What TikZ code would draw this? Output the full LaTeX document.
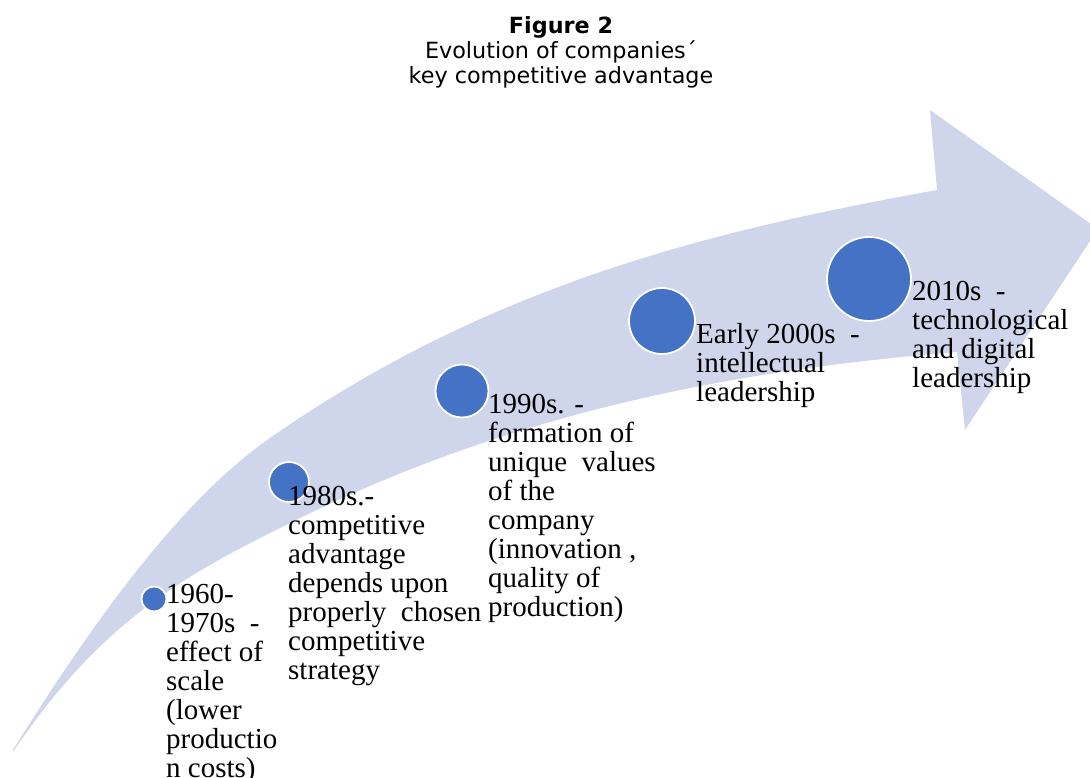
\documentclass[tikz,border=0pt]{standalone}
\usepackage{fontspec}
\setmainfont{Liberation Serif}
\newfontfamily\titlefont{DejaVu Sans}
\definecolor{arrowfill}{RGB}{207,213,234}
\definecolor{dotblue}{RGB}{68,114,196}
% multi-line caption whose reference point is the baseline of its first line
\newcommand\stagetext[1]{\parbox[t]{330pt}{\raggedright\fontsize{29}{29}\selectfont #1}}
\begin{document}
\begin{tikzpicture}[x=1pt,y=-1pt,
  dot/.style={circle, fill=dotblue, draw=white, line width=1.8pt, inner sep=0pt},
  stagelabel/.style={anchor=base west, inner sep=0pt, text=black},
]
\useasboundingbox (0,0) rectangle (1090,777);
\clip (0,0) rectangle (1090,777);

% title
\node[anchor=base, inner sep=0pt] (title) at (561,33)
  {\parbox[t]{500pt}{\centering\titlefont\fontsize{22.3}{25.3}\selectfont
   \textbf{Figure 2}\\Evolution of companies´\\key competitive advantage}};

% curved upward arrow: upper edge, head, lower edge back to the tail point
\fill[arrowfill]
  (13,750) .. controls (99,612) and (184,498) .. (270,438)
           .. controls (492,283) and (715,230) .. (937,190)
  -- (930,110) -- (1098,229) -- (965,430) -- (957,352)
           .. controls (735,370) and (512,412) .. (290,523)
           .. controls (198,569) and (105,614) .. (13,752)
  -- cycle;

% stage markers
\node[dot, minimum size=25pt] (c1) at (154,599) {};
\node[dot, minimum size=40pt] (c2) at (289,482) {};
\node[dot, minimum size=53pt] (c3) at (462,391) {};
\node[dot, minimum size=66pt] (c4) at (662,321) {};
\node[dot, minimum size=84pt] (c5) at (869,279) {};

% stage captions
\node[stagelabel] (t1) at (166,603) {\stagetext{1960-\\1970s\ \ -\\effect of\\scale\\(lower\\productio\\n costs)}};
\node[stagelabel] (t2) at (288,505) {\stagetext{1980s.-\\competitive\\advantage\\depends upon\\properly\ \ chosen\\competitive\\strategy}};
\node[stagelabel] (t3) at (488,413) {\stagetext{1990s. -\\formation of\\unique\ \ values\\of the\\company\\(innovation ,\\quality of\\production)}};
\node[stagelabel] (t4) at (696,343) {\stagetext{Early 2000s\ \ -\\intellectual\\leadership}};
\node[stagelabel] (t5) at (912,300) {\stagetext{2010s\ \ -\\technological\\and digital\\leadership}};
\end{tikzpicture}
\end{document}
